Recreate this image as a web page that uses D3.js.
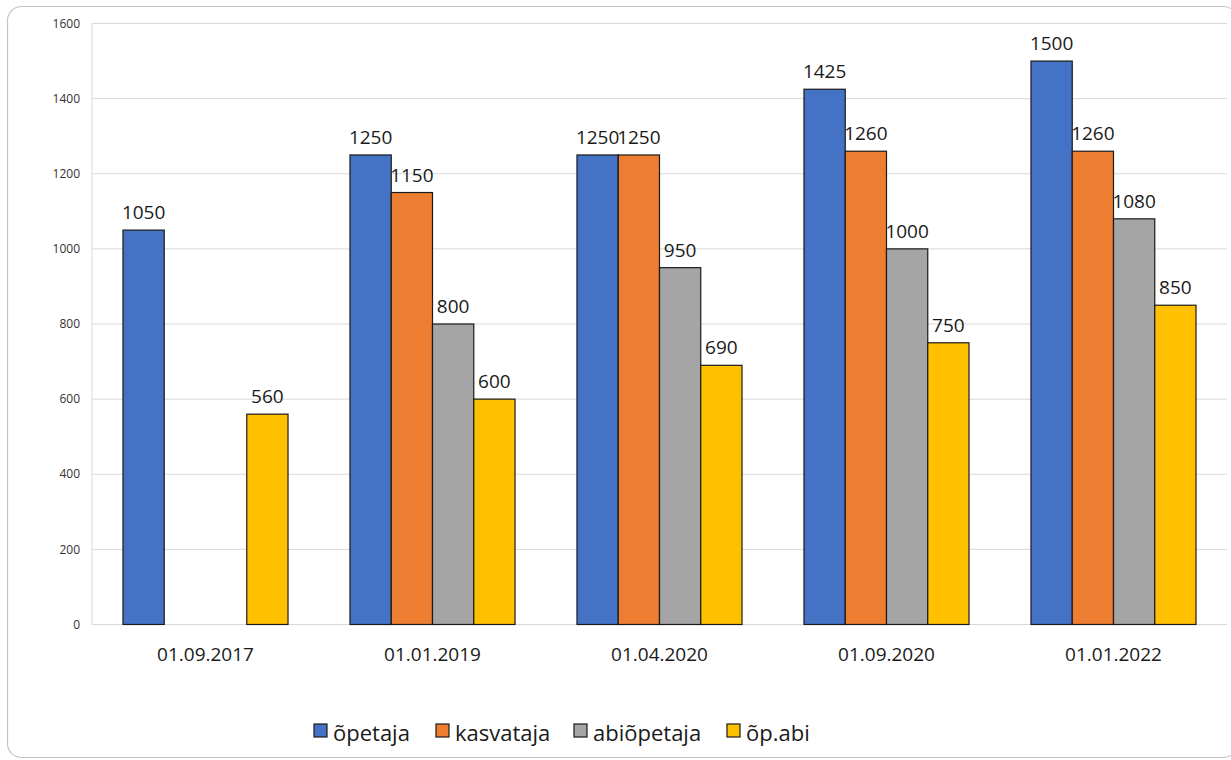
<!DOCTYPE html>
<html>
<head>
<meta charset="utf-8">
<script src="https://cdn.jsdelivr.net/npm/d3@7"></script>
<style>
  body { margin: 0; background: #fff; }
  svg { display: block; font-family: "Open Sans", sans-serif; }
</style>
</head>
<body>
<svg width="1231" height="760"></svg>
<script>
// data
let categories = ["01.09.2017", "01.01.2019", "01.04.2020", "01.09.2020", "01.01.2022"];
let seriesNames = ["õpetaja", "kasvataja", "abiõpetaja", "õp.abi"];
let opetaja    = [1050, 1250, 1250, 1425, 1500];
let kasvataja  = [null, 1150, 1250, 1260, 1260];
let abiopetaja = [null, 800, 950, 1000, 1080];
let opabi      = [560, 600, 690, 750, 850];
let yTicks = [0, 200, 400, 600, 800, 1000, 1200, 1400, 1600];
let colors = ["#4472C4", "#ED7D31", "#A5A5A5", "#FFC000"];

let seriesValues = [opetaja, kasvataja, abiopetaja, opabi];

let svg = d3.select("svg"),
    width = +svg.attr("width"),
    height = +svg.attr("height");

// outer frame
svg.append("rect")
    .attr("x", 7.5).attr("y", 6.5)
    .attr("width", 1230).attr("height", 751)
    .attr("rx", 14)
    .attr("fill", "#fff")
    .attr("stroke", "#c4c4c4")
    .attr("stroke-width", 1.2);

let plotLeft = 92, plotRight = 1227, plotTop = 23.5, plotBottom = 624.5;

let x0 = d3.scaleBand()
    .domain(categories)
    .range([plotLeft, plotRight])
    .paddingInner(0.273)
    .paddingOuter(0.1365);

let x1 = d3.scaleBand()
    .domain(seriesNames)
    .range([0, x0.bandwidth()]);

let y = d3.scaleLinear()
    .domain([0, 1600])
    .range([plotBottom, plotTop]);

// gridlines
svg.append("g")
  .selectAll("line")
  .data(yTicks)
  .enter().append("line")
    .attr("x1", plotLeft).attr("x2", plotRight)
    .attr("y1", d => y(d)).attr("y2", d => y(d))
    .attr("stroke", "#d9d9d9")
    .attr("stroke-width", 1);

// vertical axis line
svg.append("line")
    .attr("x1", plotLeft).attr("x2", plotLeft)
    .attr("y1", y(1600)).attr("y2", y(0))
    .attr("stroke", "#d9d9d9");

// y tick labels
svg.append("g")
  .selectAll("text")
  .data(yTicks)
  .enter().append("text")
    .attr("x", plotLeft - 12)
    .attr("y", d => y(d))
    .attr("dy", "0.35em")
    .attr("text-anchor", "end")
    .style("font-size", "12px")
    .style("fill", "#333")
    .text(d => d);

// flatten into rows for bars
let rows = [];
categories.forEach(function(c, i) {
  seriesNames.forEach(function(s, j) {
    let v = seriesValues[j][i];
    if (v !== null) rows.push({cat: c, series: s, value: v, color: colors[j]});
  });
});

svg.append("g")
  .selectAll("rect")
  .data(rows)
  .enter().append("rect")
    .attr("x", d => x0(d.cat) + x1(d.series))
    .attr("y", d => y(d.value))
    .attr("width", x1.bandwidth())
    .attr("height", d => y(0) - y(d.value))
    .attr("fill", d => d.color)
    .attr("stroke", "#1a1a1a")
    .attr("stroke-width", 1.2);

// value labels
svg.append("g")
  .selectAll("text")
  .data(rows)
  .enter().append("text")
    .attr("x", d => x0(d.cat) + x1(d.series) + x1.bandwidth() / 2)
    .attr("y", d => y(d.value) - 11)
    .attr("text-anchor", "middle")
    .style("font-size", "19px")
    .style("fill", "#1a1a1a")
    .text(d => d.value);

// category labels
svg.append("g")
  .selectAll("text")
  .data(categories)
  .enter().append("text")
    .attr("x", d => x0(d) + x0.bandwidth() / 2)
    .attr("y", 661)
    .attr("text-anchor", "middle")
    .style("font-size", "19px")
    .style("fill", "#1a1a1a")
    .text(d => d);

// legend
let legendX = [314, 436, 574, 727];
let legend = svg.append("g")
  .selectAll("g")
  .data(seriesNames)
  .enter().append("g")
    .attr("transform", (d, i) => "translate(" + legendX[i] + ",0)");

legend.append("rect")
    .attr("x", 0).attr("y", 724)
    .attr("width", 13).attr("height", 13)
    .attr("fill", (d, i) => colors[i])
    .attr("stroke", "#1a1a1a")
    .attr("stroke-width", 1.2);

legend.append("text")
    .attr("x", 19)
    .attr("y", 741)
    .style("font-size", "22px")
    .style("fill", "#1a1a1a")
    .text(d => d);
</script>
</body>
</html>
